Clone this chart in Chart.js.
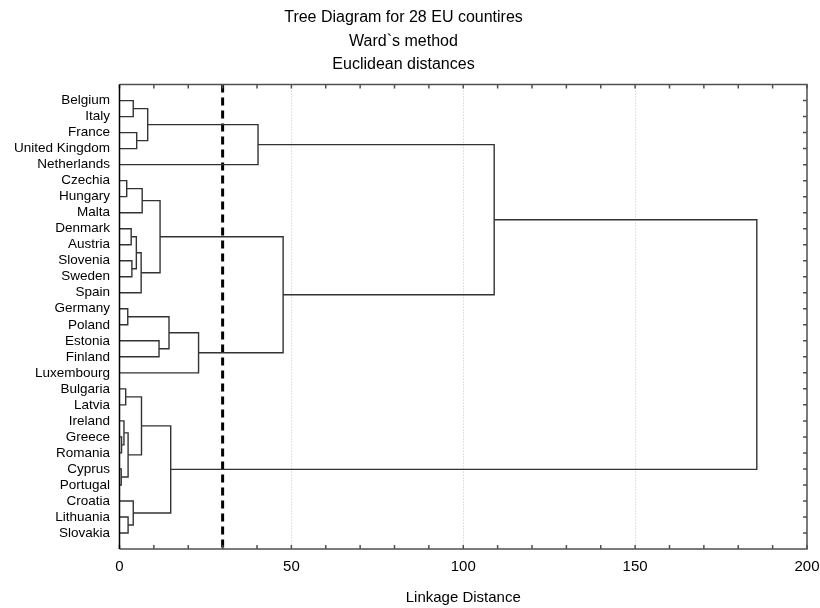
<!DOCTYPE html>
<html>
<head>
<meta charset="utf-8">
<script src="https://cdn.jsdelivr.net/npm/chart.js@4.4.1/dist/chart.umd.min.js"></script>
<style>
  html, body { margin: 0; padding: 0; background: #fff; }
  #wrap { width: 820px; height: 608px; }
</style>
</head>
<body>
<div id="wrap"><canvas id="treeChart" width="820" height="608"></canvas></div>
<script>
// Leaves in the order they appear top to bottom
const leaves = ['Belgium', 'Italy', 'France', 'United Kingdom', 'Netherlands',
    'Czechia', 'Hungary', 'Malta', 'Denmark', 'Austria', 'Slovenia', 'Sweden', 'Spain',
    'Germany', 'Poland', 'Estonia', 'Finland', 'Luxembourg',
    'Bulgaria', 'Latvia', 'Ireland', 'Greece', 'Romania', 'Cyprus', 'Portugal',
    'Croatia', 'Lithuania', 'Slovakia'];

// Merge steps: '#k' refers to the cluster made in step k
const mergeLeft = ['Greece', 'Cyprus', 'Ireland', 'Bulgaria', 'Czechia', 'Germany', '#2',
    'Lithuania', 'Denmark', 'Slovenia', 'Croatia', 'Belgium', 'France', '#8', '#13', '#3',
    '#4', '#11', 'Estonia', '#16', '#5', '#15', '#20', '#17', '#19', '#23', '#25'];
const mergeRight = ['Romania', 'Portugal', '#0', 'Latvia', 'Hungary', 'Poland', '#1',
    'Slovakia', 'Austria', 'Sweden', '#7', 'Italy', 'United Kingdom', '#9', 'Spain', '#6',
    'Malta', '#12', 'Finland', '#14', '#18', '#10', 'Luxembourg', 'Netherlands', '#22', '#24', '#21'];
const mergeHeight = [0.6, 0.5, 1.3, 1.8, 2.1, 2.4, 2.5,
    2.5, 3.4, 3.6, 4.0, 4.0, 5.0, 4.9, 6.3, 6.4,
    6.6, 8.2, 11.5, 11.8, 14.4, 14.9, 23.0, 40.3, 47.6, 109.0, 185.4];

const xLabels = [0, 50, 100, 150, 200];
const gridLines = [50, 100, 150];
const cutDistance = 30;

const FONT = '"Liberation Sans", Arial, sans-serif';

// Build the U shaped links of the tree
const nodePos = {};
leaves.forEach((name, i) => { nodePos[name] = { h: 0, y: i + 1 }; });
const links = mergeLeft.map((left, k) => {
    const a = nodePos[left];
    const b = nodePos[mergeRight[k]];
    const h = mergeHeight[k];
    nodePos['#' + k] = { h: h, y: (a.y + b.y) / 2 };
    return [{ x: a.h, y: a.y }, { x: h, y: a.y }, { x: h, y: b.y }, { x: b.h, y: b.y }];
});

const datasets = links.map(pts => ({
    data: pts,
    showLine: true,
    borderColor: '#333',
    borderWidth: 1.4,
    pointRadius: 0,
    tension: 0
}));
datasets.push({
    data: [{ x: cutDistance, y: 0 }, { x: cutDistance, y: leaves.length + 1 }],
    showLine: true,
    borderColor: '#000',
    borderWidth: 3,
    borderDash: [8, 5],
    pointRadius: 0
});

// Dotted grid, frame and inward tick marks
const framePlugin = {
    id: 'frame',
    beforeDatasetsDraw(chart) {
        const { ctx, chartArea: a, scales: { x } } = chart;
        ctx.save();
        ctx.strokeStyle = '#c4c4c4';
        ctx.lineWidth = 1;
        ctx.setLineDash([1, 2]);
        gridLines.forEach(v => {
            const px = Math.round(x.getPixelForValue(v)) + 0.5;
            ctx.beginPath();
            ctx.moveTo(px, a.top);
            ctx.lineTo(px, a.bottom);
            ctx.stroke();
        });
        ctx.restore();
    },
    afterDraw(chart) {
        const { ctx, chartArea: a, scales: { x, y } } = chart;
        ctx.save();
        ctx.strokeStyle = '#505050';
        ctx.lineWidth = 1.5;
        ctx.beginPath();
        x.ticks.forEach(t => {
            const px = x.getPixelForValue(t.value);
            ctx.moveTo(px, a.top);
            ctx.lineTo(px, a.top + 4);
            ctx.moveTo(px, a.bottom);
            ctx.lineTo(px, a.bottom - 4);
        });
        y.ticks.forEach(t => {
            const py = y.getPixelForValue(t.value);
            ctx.moveTo(a.right, py);
            ctx.lineTo(a.right - 4, py);
        });
        ctx.stroke();
        ctx.beginPath();
        ctx.moveTo(a.left, a.top);
        ctx.lineTo(a.right, a.top);
        ctx.lineTo(a.right, a.bottom);
        ctx.lineTo(a.left, a.bottom);
        ctx.stroke();
        ctx.strokeStyle = '#000';
        ctx.beginPath();
        ctx.moveTo(a.left, a.top);
        ctx.lineTo(a.left, a.bottom);
        ctx.stroke();
        ctx.restore();
    }
};

new Chart(document.getElementById('treeChart'), {
    type: 'scatter',
    data: { datasets: datasets },
    options: {
        responsive: false,
        animation: false,
        layout: { padding: { left: 0, right: 13, top: 0, bottom: 0 } },
        plugins: {
            legend: { display: false },
            tooltip: { enabled: false },
            title: {
                display: true,
                text: ['Tree Diagram for 28 EU countires', 'Ward`s method', 'Euclidean distances'],
                color: '#000',
                font: { family: FONT, size: 16, weight: 'normal', lineHeight: 1.47 },
                padding: { top: 6, bottom: 8 }
            }
        },
        scales: {
            x: {
                type: 'linear',
                min: 0,
                max: 200,
                grid: { display: false, drawTicks: false },
                border: { display: false },
                afterFit(scale) {
                    scale.height = 59;
                    scale.paddingLeft = 0;
                    scale.paddingRight = 0;
                },
                ticks: {
                    stepSize: 10,
                    autoSkip: false,
                    maxRotation: 0,
                    padding: 9,
                    color: '#000',
                    font: { family: FONT, size: 15 },
                    callback: v => (xLabels.includes(v) ? v : '')
                },
                title: {
                    display: true,
                    text: 'Linkage Distance',
                    color: '#000',
                    font: { family: FONT, size: 15, lineHeight: 1.2 },
                    padding: { top: 0, bottom: 1 }
                }
            },
            y: {
                type: 'linear',
                min: 0,
                max: leaves.length + 1,
                reverse: true,
                grid: { display: false, drawTicks: false },
                border: { display: false },
                afterFit(scale) {
                    scale.width = 119.5;
                    scale.paddingTop = 0;
                    scale.paddingBottom = 0;
                },
                afterBuildTicks(scale) {
                    scale.ticks = leaves.map((_, i) => ({ value: i + 1 }));
                },
                ticks: {
                    autoSkip: false,
                    padding: 9.5,
                    color: '#000',
                    font: { family: FONT, size: 13.5 },
                    callback: v => leaves[v - 1]
                }
            }
        }
    },
    plugins: [framePlugin]
});
</script>
</body>
</html>
